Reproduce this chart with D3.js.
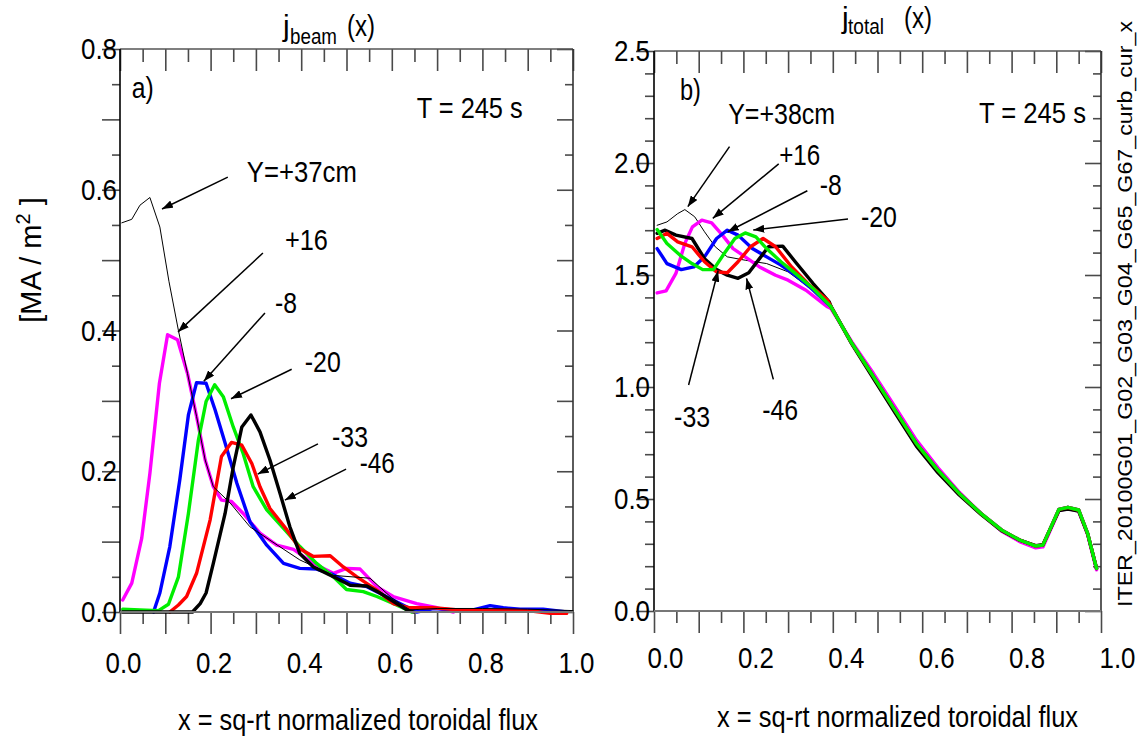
<!DOCTYPE html>
<html><head><meta charset="utf-8">
<script src="https://cdn.jsdelivr.net/npm/d3@7"></script>
<style>body{margin:0;background:#fff}</style>
</head><body><svg id="c" width="1143" height="751"></svg>
<script>
// ---------------- DATA ----------------
// panel a) j_beam(x)  [x, MA/m^2]
const beamY37 = [[0.004,0.553],[0.026,0.558],[0.044,0.578],[0.066,0.589],[0.088,0.547],[0.108,0.47],[0.129,0.40],[0.149,0.339],[0.169,0.278],[0.188,0.216],[0.206,0.178],[0.243,0.155],[0.287,0.121],[0.331,0.102],[0.397,0.074],[0.471,0.052],[0.552,0.048],[0.60,0.02],[0.64,0.003],[0.70,0.005],[0.80,0.005],[0.90,0.004],[1.0,0.002]];
const beamP16 = [[0.006,0.017],[0.026,0.041],[0.048,0.105],[0.066,0.197],[0.087,0.325],[0.105,0.394],[0.127,0.387],[0.149,0.339],[0.169,0.278],[0.188,0.216],[0.206,0.178],[0.224,0.159],[0.246,0.157],[0.272,0.140],[0.309,0.112],[0.346,0.095],[0.383,0.089],[0.427,0.069],[0.471,0.055],[0.50,0.062],[0.530,0.061],[0.567,0.036],[0.603,0.022],[0.655,0.012],[0.70,0.006],[0.736,0.0]];
const beamM8 = [[0.074,0.0],[0.088,0.027],[0.110,0.093],[0.132,0.188],[0.151,0.280],[0.169,0.326],[0.190,0.325],[0.210,0.287],[0.232,0.240],[0.258,0.183],[0.287,0.128],[0.324,0.095],[0.361,0.069],[0.397,0.062],[0.434,0.061],[0.471,0.053],[0.508,0.041],[0.545,0.036],[0.581,0.024],[0.618,0.012],[0.655,0.0],[0.692,0.005],[0.736,0.003],[0.773,0.002],[0.817,0.009],[0.846,0.006],[0.883,0.004],[0.934,0.004],[0.986,0.0]];
const beamM20 = [[0.006,0.004],[0.044,0.003],[0.085,0.002],[0.107,0.011],[0.129,0.05],[0.151,0.14],[0.173,0.244],[0.190,0.299],[0.209,0.323],[0.228,0.306],[0.250,0.263],[0.272,0.225],[0.294,0.178],[0.324,0.145],[0.361,0.119],[0.397,0.093],[0.434,0.069],[0.471,0.050],[0.50,0.032],[0.537,0.029],[0.567,0.022],[0.603,0.012],[0.644,0.0]];
const beamM33 = [[0.110,0.0],[0.129,0.01],[0.147,0.022],[0.169,0.055],[0.199,0.131],[0.224,0.221],[0.246,0.241],[0.269,0.237],[0.291,0.211],[0.309,0.178],[0.331,0.147],[0.368,0.117],[0.397,0.09],[0.427,0.079],[0.464,0.080],[0.493,0.064],[0.523,0.05],[0.567,0.031],[0.603,0.012],[0.640,0.006],[0.692,0.006],[0.766,0.002],[0.839,0.003],[0.913,0.001],[0.950,-0.002],[0.986,-0.002]];
const beamM46 = [[0.005,0.0],[0.03,0.0],[0.160,0.0],[0.177,0.012],[0.190,0.027],[0.206,0.069],[0.232,0.14],[0.250,0.206],[0.269,0.263],[0.289,0.28],[0.309,0.256],[0.331,0.216],[0.353,0.169],[0.375,0.121],[0.397,0.083],[0.427,0.064],[0.471,0.05],[0.508,0.038],[0.545,0.037],[0.574,0.027],[0.603,0.015],[0.633,0.003],[0.648,0.0]];

// panel b) j_total(x)  [x, MA/m^2]
const totalY38 = [[0.007,1.722],[0.029,1.737],[0.053,1.774],[0.069,1.792],[0.091,1.760],[0.113,1.693],[0.137,1.626],[0.164,1.581],[0.204,1.566],[0.252,1.551],[0.300,1.514],[0.35,1.44]];
const totalP16 = [[0.007,1.420],[0.027,1.429],[0.049,1.507],[0.069,1.641],[0.086,1.715],[0.107,1.745],[0.129,1.733],[0.153,1.678],[0.177,1.618],[0.204,1.581],[0.236,1.536],[0.272,1.499],[0.300,1.477],[0.340,1.432],[0.388,1.358]];
const totalM8 = [[0.007,1.618],[0.029,1.551],[0.061,1.524],[0.089,1.536],[0.113,1.581],[0.140,1.663],[0.164,1.700],[0.188,1.678],[0.220,1.618],[0.252,1.581],[0.284,1.544],[0.316,1.499],[0.348,1.447],[0.388,1.373]];
const totalM20 = [[0.007,1.703],[0.029,1.641],[0.061,1.584],[0.085,1.551],[0.109,1.524],[0.133,1.524],[0.157,1.596],[0.181,1.663],[0.204,1.688],[0.228,1.670],[0.252,1.618],[0.284,1.559],[0.316,1.507],[0.356,1.440]];
const totalM33 = [[0.007,1.663],[0.029,1.686],[0.053,1.648],[0.085,1.626],[0.113,1.559],[0.140,1.514],[0.164,1.510],[0.188,1.559],[0.216,1.626],[0.244,1.663],[0.272,1.626],[0.308,1.536],[0.348,1.455],[0.388,1.388]];
const totalM46 = [[0.007,1.686],[0.025,1.700],[0.049,1.678],[0.085,1.663],[0.113,1.573],[0.140,1.524],[0.164,1.499],[0.188,1.485],[0.212,1.510],[0.236,1.573],[0.256,1.626],[0.288,1.629],[0.316,1.559],[0.356,1.462],[0.392,1.380]];
// common outer part (all cases nearly identical)
const totalTail = [[0.396,1.358],[0.443,1.194],[0.491,1.046],[0.539,0.897],[0.587,0.748],[0.635,0.629],[0.683,0.525],[0.731,0.436],[0.778,0.361],[0.818,0.317],[0.854,0.290],[0.870,0.294],[0.906,0.454],[0.926,0.463],[0.950,0.451],[0.970,0.347],[0.990,0.190]];
const totalTailP16 = [[0.396,1.350],[0.443,1.200],[0.491,1.060],[0.539,0.912],[0.587,0.763],[0.635,0.640],[0.683,0.530],[0.731,0.436],[0.778,0.356],[0.818,0.310],[0.854,0.282],[0.870,0.286],[0.906,0.448],[0.926,0.458],[0.950,0.446],[0.970,0.342],[0.990,0.184]];
const totalTailM46 = [[0.396,1.360],[0.443,1.190],[0.491,1.038],[0.539,0.886],[0.587,0.736],[0.635,0.618],[0.683,0.518],[0.731,0.432],[0.778,0.358],[0.818,0.316],[0.854,0.292],[0.870,0.296],[0.906,0.448],[0.926,0.455],[0.950,0.446],[0.970,0.344],[0.990,0.190]];

const seriesColors = ["#000000","#ff00ff","#0000ff","#00ee00","#ff0000","#000000"];
const beamLabels = ["Y=+37cm","+16","-8","-20","-33","-46"];
const totalLabels = ["Y=+38cm","+16","-8","-20","-33","-46"];
const xTickLabels = [0.0,0.2,0.4,0.6,0.8,1.0];
const beamTickLabels = [0.0,0.2,0.4,0.6,0.8];
const totalTickLabels = [0.0,0.5,1.0,1.5,2.0,2.5];
const timeLabel = "T = 245 s";
const xTitle = "x = sq-rt normalized toroidal flux";
const sideTag = "ITER_20100G01_G02_G03_G04_G65_G67_curb_cur_x";

// ---------------- DRAW ----------------
const NARROW = "'Liberation Sans Narrow','Arial Narrow','Liberation Sans',Arial,sans-serif";
const SANS = "'Liberation Sans',Arial,sans-serif";
const svg = d3.select("#c");
svg.append("rect").attr("width",1143).attr("height",751).attr("fill","#fff");
svg.append("defs").append("marker").attr("id","arr")
  .attr("viewBox","0 0 11 8").attr("refX",11).attr("refY",4)
  .attr("markerWidth",11).attr("markerHeight",8).attr("markerUnits","userSpaceOnUse")
  .attr("orient","auto")
  .append("path").attr("d","M0,0 L11,4 L0,8 Z").attr("fill","#000");

function txt(g, s, x, y, opt={}) {
  const t = g.append("text").attr("x",x).attr("y",y).text(s)
    .attr("font-family", opt.family || NARROW).attr("font-size", opt.size || 30)
    .attr("fill","#000").attr("text-anchor", opt.anchor || "start");
  if (opt.len) t.attr("textLength",opt.len).attr("lengthAdjust","spacingAndGlyphs");
  return t;
}

function panel(c) {
  const g = svg.append("g");
  const x = d3.scaleLinear().domain([0,1]).range([c.x0,c.x1]);
  const y = d3.scaleLinear().domain([0,c.ymax]).range([c.yb,c.yt]);
  const styleTicks = sel => { sel.select(".domain").remove();
    sel.selectAll("line").attr("stroke","#4a4a4a").attr("stroke-width",1.6); };
  const xMaj = d3.range(0,11).map(i=>i/10), xMin = d3.range(1,20,2).map(i=>i/20);
  g.append("g").attr("transform",`translate(0,${c.yb})`).call(d3.axisBottom(x).tickValues(xMaj).tickSize(22).tickFormat("")).call(styleTicks);
  g.append("g").attr("transform",`translate(0,${c.yb})`).call(d3.axisBottom(x).tickValues(xMin).tickSize(12).tickFormat("")).call(styleTicks);
  g.append("g").attr("transform",`translate(0,${c.yt})`).call(d3.axisBottom(x).tickValues(xMaj).tickSize(22).tickFormat("")).call(styleTicks);
  g.append("g").attr("transform",`translate(0,${c.yt})`).call(d3.axisBottom(x).tickValues(xMin).tickSize(13).tickFormat("")).call(styleTicks);
  g.append("g").attr("transform",`translate(${c.x0},0)`).call(d3.axisLeft(y).tickValues(c.yMaj).tickSize(18).tickFormat("")).call(styleTicks);
  g.append("g").attr("transform",`translate(${c.x0},0)`).call(d3.axisLeft(y).tickValues(c.yMin).tickSize(c.minL).tickFormat("")).call(styleTicks);
  g.append("g").attr("transform",`translate(${c.x1},0)`).call(d3.axisLeft(y).tickValues(c.yMaj).tickSize(16).tickFormat("")).call(styleTicks);
  g.append("g").attr("transform",`translate(${c.x1},0)`).call(d3.axisLeft(y).tickValues(c.yMin).tickSize(8).tickFormat("")).call(styleTicks);
  const yl = g.append("g").attr("transform",`translate(${c.x0},0)`)
    .call(d3.axisLeft(y).tickValues(c.yLabels).tickSize(0).tickPadding(c.yPad).tickFormat(d3.format(".1f")));
  yl.select(".domain").remove();
  yl.selectAll("text").attr("font-family",NARROW).attr("font-size",30).attr("fill","#000")
    .attr("textLength",36).attr("lengthAdjust","spacingAndGlyphs");
  const xLab = d3.scaleLinear().domain([0,1]).range(c.xLabRange);
  const xl = g.append("g").attr("transform",`translate(0,${c.yb})`)
    .call(d3.axisBottom(xLab).tickValues(xTickLabels).tickSize(0).tickPadding(c.xPad).tickFormat(d3.format(".1f")));
  xl.select(".domain").remove();
  xl.selectAll("text").attr("font-family",NARROW).attr("font-size",30).attr("fill","#000")
    .attr("textLength",36).attr("lengthAdjust","spacingAndGlyphs");
  g.append("line").attr("x1",c.x0).attr("x2",c.x1).attr("y1",c.yt).attr("y2",c.yt).attr("stroke","#555").attr("stroke-width",1.6);
  g.append("line").attr("x1",c.x1).attr("x2",c.x1).attr("y1",c.yt).attr("y2",c.yb).attr("stroke","#333").attr("stroke-width",1.6);
  g.append("line").attr("x1",c.x0).attr("x2",c.x0).attr("y1",c.yt).attr("y2",c.yb).attr("stroke","#000").attr("stroke-width",1.6);
  const line = d3.line().x(d=>x(d[0])).y(d=>y(d[1]));
  c.series.forEach(s => {
    g.append("path").datum(s.data).attr("d",line).attr("fill","none")
      .attr("stroke",s.color).attr("stroke-width",s.w).attr("stroke-linejoin","round").attr("stroke-linecap","round");
  });
  g.append("line").attr("x1",c.x0).attr("x2",c.x1).attr("y1",c.yb).attr("y2",c.yb).attr("stroke","#777").attr("stroke-width",2.2);
  c.notes.forEach(n => txt(g, n.t, x(n.x), y(n.y), {len:n.len}));
  c.arrows.forEach(a => g.append("line").attr("x1",x(a[0])).attr("y1",y(a[1])).attr("x2",x(a[2])).attr("y2",y(a[3]))
      .attr("stroke","#000").attr("stroke-width",1.5).attr("marker-end","url(#arr)"));
  return {g,x,y};
}

const W = 3.4;
panel({
  x0:120, x1:573, yb:612, yt:49, ymax:0.8,
  yMaj:d3.range(0,9).map(i=>i/10), yMin:d3.range(1,16,2).map(i=>i/20), minL:8,
  yLabels:beamTickLabels, yPad:3, xLabRange:[123,576], xPad:40,
  series:[
    {data:beamP16,color:seriesColors[1],w:W},
    {data:beamM8,color:seriesColors[2],w:W},
    {data:beamM20,color:seriesColors[3],w:W},
    {data:beamM33,color:seriesColors[4],w:W},
    {data:beamM46,color:seriesColors[5],w:W},
    {data:beamY37,color:seriesColors[0],w:1}
  ],
  notes:[
    {t:"a)",x:0.026,y:0.730,len:22},
    {t:timeLabel,x:0.655,y:0.702,len:106},
    {t:beamLabels[0],x:0.280,y:0.611,len:110},
    {t:beamLabels[1],x:0.364,y:0.514,len:43},
    {t:beamLabels[2],x:0.342,y:0.425,len:22},
    {t:beamLabels[3],x:0.408,y:0.341,len:36},
    {t:beamLabels[4],x:0.468,y:0.234,len:36},
    {t:beamLabels[5],x:0.529,y:0.198,len:35}
  ],
  arrows:[[0.238,0.618,0.0927,0.5727],[0.3155,0.5101,0.128,0.398],[0.320,0.425,0.185,0.328],
          [0.379,0.345,0.245,0.303],[0.437,0.239,0.304,0.196],[0.499,0.203,0.364,0.159]]
});

panel({
  x0:654, x1:1101, yb:611, yt:51, ymax:2.5,
  yMaj:d3.range(0,6).map(i=>i/2), yMin:d3.range(1,25).filter(i=>i%5!==0).map(i=>i/10), minL:9,
  yLabels:totalTickLabels, yPad:4, xLabRange:[665,1117], xPad:36,
  series:[
    {data:totalY38.concat(totalTail),color:seriesColors[0],w:1},
    {data:totalP16.concat(totalTailP16),color:seriesColors[1],w:W},
    {data:totalM8.concat(totalTail),color:seriesColors[2],w:W},
    {data:totalM46.concat(totalTailM46),color:seriesColors[5],w:W},
    {data:totalM33.concat(totalTail),color:seriesColors[4],w:W},
    {data:totalM20.concat(totalTail),color:seriesColors[3],w:W}
  ],
  notes:[
    {t:"b)",x:0.058,y:2.281,len:21},
    {t:totalLabels[0],x:0.166,y:2.174,len:107},
    {t:timeLabel,x:0.727,y:2.179,len:107},
    {t:totalLabels[1],x:0.280,y:1.991,len:41},
    {t:totalLabels[2],x:0.371,y:1.857,len:22},
    {t:totalLabels[3],x:0.463,y:1.714,len:36},
    {t:totalLabels[4],x:0.045,y:0.821,len:36},
    {t:totalLabels[5],x:0.242,y:0.853,len:36}
  ],
  arrows:[[0.169,2.073,0.0756,1.805],[0.279,1.996,0.1315,1.753],[0.343,1.876,0.165,1.693],
          [0.434,1.750,0.222,1.701],[0.0774,1.009,0.1434,1.519],[0.267,1.034,0.207,1.485]]
});

function title(sub, x, yMain, ySub, subX, parX, subLen) {
  txt(svg,"j",x,yMain,{size:30});
  txt(svg,sub,subX,ySub,{size:22,len:subLen});
  txt(svg,"(x)",parX,yMain,{size:30,len:28});
}
title("beam",283,36,44,290,347,47);
title("total",842,28,34,848,904,36);

const yt = svg.append("text").attr("transform","translate(41,260) rotate(-90)")
  .attr("text-anchor","middle").attr("font-family",SANS).attr("font-size",29).attr("fill","#000");
yt.append("tspan").text("[MA / m");
yt.append("tspan").attr("dy",-11).attr("font-size",20).text("2");
yt.append("tspan").attr("dy",11).text(" ]");

txt(svg,xTitle,178,730,{len:360});
txt(svg,xTitle,717,727,{len:361});

svg.append("text").attr("transform","translate(1132,607) rotate(-90)")
  .attr("font-family",SANS).attr("font-size",19.5).attr("fill","#000")
  .attr("textLength",586).attr("lengthAdjust","spacingAndGlyphs").text(sideTag);
</script></body></html>
